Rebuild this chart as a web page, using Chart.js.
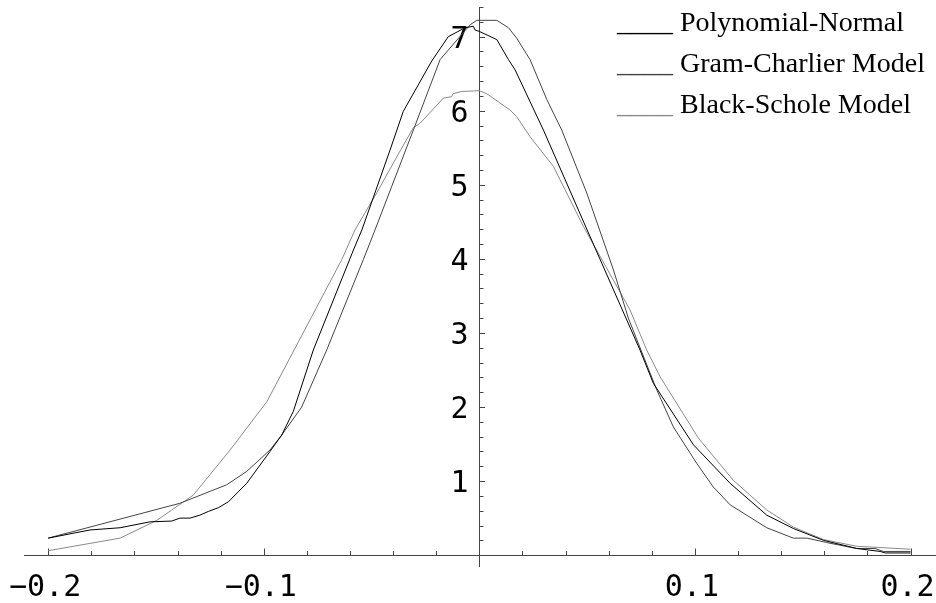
<!DOCTYPE html>
<html>
<head>
<meta charset="utf-8">
<title>Return density models</title>
<script src="https://cdn.jsdelivr.net/npm/chart.js@4.4.1/dist/chart.umd.min.js"></script>
<style>
  html, body { margin: 0; padding: 0; background: #fff; }
  #wrap { width: 936px; height: 603px; }
</style>
</head>
<body>
<div id="wrap"><canvas id="densityChart" width="936" height="603"></canvas></div>
<script>
// Legend order, names and line colours
const seriesNames = ['Polynomial-Normal', 'Gram-Charlier Model', 'Black-Schole Model'];
const seriesColors = ['#000000', '#444444', '#8a8a8a'];

// [return, density] samples
const polyNormal = [
    [-0.2, 0.23], [-0.1806, 0.34], [-0.1666, 0.37], [-0.1527, 0.45], [-0.1427, 0.46],
    [-0.1389, 0.50], [-0.1342, 0.50], [-0.1296, 0.54], [-0.1257, 0.59], [-0.1211, 0.64],
    [-0.1164, 0.72], [-0.1079, 0.97], [-0.0971, 1.40], [-0.0917, 1.62], [-0.0863, 1.94],
    [-0.0770, 2.77], [-0.0584, 4.12], [-0.0545, 4.39], [-0.0414, 5.47], [-0.0353, 5.99],
    [-0.0221, 6.67], [-0.0144, 7.00], [-0.0066, 7.12], [-0.0028, 7.14], [-0.0020, 7.09],
    [0.0, 7.07], [0.0081, 6.96], [0.0135, 6.69], [0.0166, 6.55], [0.0297, 5.74],
    [0.0500, 4.39], [0.0745, 2.77], [0.0807, 2.32], [0.0993, 1.49], [0.1163, 0.97],
    [0.1333, 0.54], [0.1456, 0.36], [0.1596, 0.20], [0.1750, 0.09], [0.1859, 0.05],
    [0.1882, 0.03], [0.2, 0.03]
];

const gramCharlier = [
    [-0.2, 0.23], [-0.1389, 0.70], [-0.1172, 0.95], [-0.1079, 1.13], [-0.0971, 1.42],
    [-0.0917, 1.62], [-0.0824, 2.00], [-0.0708, 2.77], [-0.0538, 3.99], [-0.0484, 4.39],
    [-0.0306, 5.74], [-0.0182, 6.69], [-0.0043, 7.16], [-0.0012, 7.22], [0.0081, 7.22],
    [0.0135, 7.12], [0.0173, 6.98], [0.0235, 6.69], [0.0313, 6.15], [0.0382, 5.74],
    [0.0498, 4.89], [0.0622, 3.85], [0.0691, 3.20], [0.0823, 2.23], [0.0900, 1.73],
    [0.1008, 1.24], [0.1085, 0.92], [0.1163, 0.68], [0.1333, 0.37], [0.1456, 0.23],
    [0.1519, 0.23], [0.1611, 0.17], [0.1750, 0.09], [0.1835, 0.09], [0.1874, 0.05],
    [0.2, 0.05]
];

const blackScholes = [
    [-0.2, 0.06], [-0.1666, 0.23], [-0.1496, 0.47], [-0.1327, 0.81], [-0.1156, 1.42],
    [-0.0986, 2.07], [-0.0638, 3.99], [-0.0577, 4.39], [-0.0476, 4.89], [-0.0365, 5.47],
    [-0.0306, 5.77], [-0.0275, 5.83], [-0.0167, 6.17], [-0.0128, 6.19], [-0.0122, 6.23],
    [-0.0082, 6.26], [0.0, 6.27], [0.0034, 6.23], [0.0142, 6.01], [0.0173, 5.92],
    [0.0235, 5.65], [0.0343, 5.25], [0.0482, 4.44], [0.0699, 3.31], [0.0776, 2.77],
    [0.0838, 2.41], [0.1016, 1.58], [0.1178, 1.01], [0.1333, 0.61], [0.1456, 0.38],
    [0.1596, 0.21], [0.1750, 0.12], [0.2, 0.08]
];

// Axis ticks
const xTickValues = [-0.2, -0.1, 0.1, 0.2];
const xTickLabels = ['\u22120.2', '\u22120.1', '0.1', '0.2'];
const yTickValues = [1, 2, 3, 4, 5, 6, 7];
const yTickLabels = ['1', '2', '3', '4', '5', '6', '7'];

const toPoints = rows => rows.map(([x, y]) => ({ x: x, y: y }));

// Axes crossing at the origin, with inward ticks, drawn from the chart's scales
const crossAxes = {
    id: 'crossAxes',
    beforeDatasetsDraw(chart) {
        const { ctx, chartArea, scales: { x, y } } = chart;
        const x0 = Math.round(x.getPixelForValue(0)) + 0.5;
        const y0 = Math.round(y.getPixelForValue(0)) + 0.5;

        ctx.save();
        ctx.strokeStyle = '#444';
        ctx.lineWidth = 1;
        ctx.beginPath();
        ctx.moveTo(chartArea.left, y0);
        ctx.lineTo(chartArea.right, y0);
        ctx.moveTo(x0, chartArea.top);
        ctx.lineTo(x0, chartArea.bottom);

        // x ticks every 0.02, major every 0.1
        for (let i = -10; i <= 10; i++) {
            if (i === 0) continue;
            const px = Math.round(x.getPixelForValue(i * 0.02)) + 0.5;
            const len = i % 5 === 0 ? 7 : 4.5;
            ctx.moveTo(px, y0);
            ctx.lineTo(px, y0 - len);
        }
        // y ticks every 0.2, major every 1
        for (let i = 1; i <= 37; i++) {
            const py = Math.round(y.getPixelForValue(i * 0.2)) + 0.5;
            const len = i % 5 === 0 ? 5.5 : 4;
            ctx.moveTo(x0, py);
            ctx.lineTo(x0 + len, py);
        }
        ctx.stroke();

        ctx.fillStyle = '#000';
        ctx.font = '30px "DejaVu Sans Mono"';
        ctx.textAlign = 'center';
        ctx.textBaseline = 'alphabetic';
        xTickValues.forEach((v, i) => {
            ctx.fillText(xTickLabels[i], x.getPixelForValue(v) - 3, y0 + 40);
        });
        ctx.textAlign = 'right';
        yTickValues.forEach((v, i) => {
            ctx.fillText(yTickLabels[i], x0 - 11, y.getPixelForValue(v) + 11);
        });
        ctx.restore();
    },
    afterDraw(chart) {
        const { ctx } = chart;
        ctx.save();
        ctx.font = '28px "Liberation Serif"';
        ctx.textAlign = 'left';
        ctx.textBaseline = 'alphabetic';
        const left = 617;
        const gap = ctx.measureText('____ ').width;
        seriesNames.forEach((name, i) => {
            const by = 31 + i * 41;
            ctx.fillStyle = seriesColors[i];
            ctx.fillText('____', left, by);
            ctx.fillStyle = '#000';
            ctx.fillText(name, left + gap, by);
        });
        ctx.restore();
    }
};

const datasets = [polyNormal, gramCharlier, blackScholes].map((rows, i) => ({
    label: seriesNames[i],
    data: toPoints(rows),
    borderColor: seriesColors[i],
    backgroundColor: 'transparent',
    borderWidth: 1,
    pointRadius: 0,
    tension: 0,
    fill: false
}));

const ctx = document.getElementById('densityChart').getContext('2d');
const densityChart = new Chart(ctx, {
    type: 'line',
    data: { datasets: datasets },
    options: {
        responsive: false,
        animation: false,
        layout: { padding: { left: 24, right: 0, top: 7, bottom: 36 } },
        plugins: {
            legend: { display: false },
            tooltip: { enabled: false }
        },
        scales: {
            x: { type: 'linear', min: -0.2112, max: 0.2118, display: false },
            y: { type: 'linear', min: -0.16, max: 7.4, display: false }
        }
    },
    plugins: [crossAxes]
});
</script>
</body>
</html>
